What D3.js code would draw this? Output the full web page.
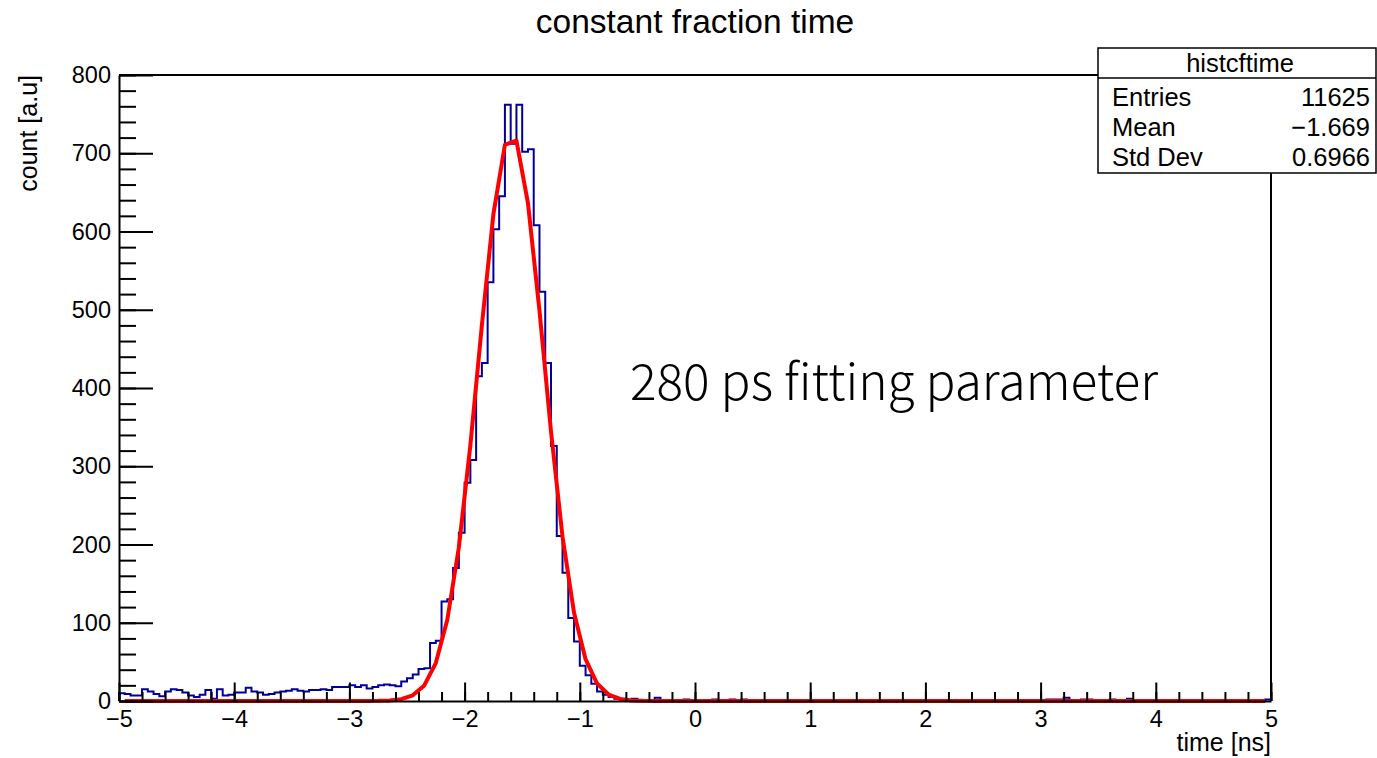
<!DOCTYPE html>
<html>
<head>
<meta charset="utf-8">
<script src="https://cdn.jsdelivr.net/npm/d3@7"></script>
<style>
  body { margin: 0; background: #fff; }
  svg { display: block; }
  text { font-family: "Liberation Sans", Arial, Helvetica, sans-serif; fill: #000; }
</style>
</head>
<body>
<svg id="chart" width="1377" height="758"></svg>
<script>
// histogram: 200 bins of 0.05 ns between -5 and 5
const binRange = [-5, 5];
const counts = [
  10, 9, 7, 7, 15, 12, 9, 6, 12, 15, 14, 11, 7, 5, 8, 14, 3, 15, 7, 8,
  11, 11, 17, 12, 11, 8, 9, 11, 12, 13, 15, 13, 12, 14, 14, 15, 14, 18, 18, 18,
  20, 18, 20, 16, 18, 20, 21, 20, 19, 25, 29, 34, 41, 42, 74, 77, 127, 130, 170, 215,
  279, 308, 415, 432, 535, 603, 645, 762, 712, 762, 702, 705, 608, 523, 432, 326, 211, 164, 106, 76,
  45, 33, 22, 12, 8, 5, 3, 2, 0, 3, 1, 0, 1, 4, 0, 1, 0, 1, 2, 0,
  1, 0, 1, 2, 1, 0, 2, 1, 2, 0, 0, 0, 0, 0, 0, 0, 0, 0, 0, 0,
  0, 0, 0, 1, 0, 0, 0, 0, 0, 0, 0, 0, 0, 0, 0, 0, 0, 0, 0, 1,
  1, 1, 0, 0, 0, 0, 0, 1, 1, 0, 1, 0, 0, 0, 0, 1, 0, 0, 0, 1,
  0, 2, 2, 2, 4, 0, 1, 2, 2, 0, 0, 0, 2, 0, 1, 3, 0, 0, 0, 0,
  0, 0, 0, 0, 1, 0, 0, 0, 0, 0, 0, 0, 1, 0, 0, 1, 0, 0, 0, 2
];

// gaus fit: constant, mean, sigma (drawn at 100 points like TF1)
const fitParams = [725, -1.594, 0.282];
const fitPoints = 100;

const xTicks = [-5, -4, -3, -2, -1, 0, 1, 2, 3, 4, 5];
const yTicks = [0, 100, 200, 300, 400, 500, 600, 700, 800];

const statsName = "histcftime";
const statsLabels = ["Entries", "Mean", "Std Dev"];
const statsValues = ["11625", "\u22121.669", "0.6966"];

const svg = d3.select("#chart");
const frame = {left: 119, right: 1271, top: 75, bottom: 701};

const x = d3.scaleLinear().domain(binRange).range([frame.left, frame.right]);
const y = d3.scaleLinear().domain([0, 800]).range([frame.bottom, frame.top]);

const binW = (binRange[1] - binRange[0]) / counts.length;

// title
svg.append("text")
    .attr("x", 695).attr("y", 33)
    .attr("text-anchor", "middle")
    .style("font-size", "33.5px")
    .text("constant fraction time");

// frame top / right
svg.append("path")
    .attr("d", `M${frame.left},${frame.top}H${frame.right}V${frame.bottom}`)
    .attr("fill", "none").attr("stroke", "#000").attr("stroke-width", 2);

// histogram outline as a step path
const steps = [[binRange[0], 0]];
counts.forEach((c, i) => {
    const x0 = binRange[0] + i * binW;
    steps.push([x0, c], [x0 + binW, c]);
});
steps.push([binRange[1], 0]);

svg.append("path")
    .attr("d", d3.line().x(d => x(d[0])).y(d => y(d[1]))(steps))
    .attr("fill", "none")
    .attr("stroke", "#000099")
    .attr("stroke-width", 2);

// fit curve
const fitDx = (binRange[1] - binRange[0]) / fitPoints;
const fitData = d3.range(fitPoints).map(i => {
    const t = binRange[0] + (i + 0.5) * fitDx;
    const z = (t - fitParams[1]) / fitParams[2];
    return [t, fitParams[0] * Math.exp(-0.5 * z * z)];
});
svg.append("path")
    .attr("d", d3.line().x(d => x(d[0])).y(d => y(d[1]))(fitData))
    .attr("fill", "none")
    .attr("stroke", "#ff0000")
    .attr("stroke-width", 4)
    .attr("stroke-linejoin", "round");

// x axis, ticks pointing inwards
const xMinor = d3.range(-5, 5.0001, 0.2).map(v => +v.toFixed(2));
svg.append("g")
    .attr("transform", `translate(0,${frame.bottom})`)
    .call(d3.axisBottom(x).tickValues(xMinor).tickFormat("").tickSizeInner(-9).tickSizeOuter(0))
    .call(g => g.select(".domain").remove());
const gx = svg.append("g")
    .attr("transform", `translate(0,${frame.bottom})`)
    .call(d3.axisBottom(x).tickValues(xTicks).tickSizeInner(-18.5).tickSizeOuter(0).tickPadding(9));
gx.selectAll("text").style("font-size", "23.5px").attr("font-family", null);

// y axis
const yMinor = d3.range(0, 801, 20);
svg.append("g")
    .attr("transform", `translate(${frame.left},0)`)
    .call(d3.axisLeft(y).tickValues(yMinor).tickFormat("").tickSizeInner(-17).tickSizeOuter(0))
    .call(g => g.select(".domain").remove());
const gy = svg.append("g")
    .attr("transform", `translate(${frame.left},0)`)
    .call(d3.axisLeft(y).tickValues(yTicks).tickSizeInner(-34).tickSizeOuter(0).tickPadding(8));
gy.selectAll("text").style("font-size", "23.5px").attr("font-family", null);

svg.selectAll(".tick line").attr("stroke", "#000").attr("stroke-width", 2);
svg.selectAll(".domain").attr("stroke", "#000").attr("stroke-width", 2);

// axis titles
svg.append("text")
    .attr("x", 1271).attr("y", 751)
    .attr("text-anchor", "end")
    .style("font-size", "25px")
    .text("time [ns]");

svg.append("text")
    .attr("transform", "translate(37,75) rotate(-90)")
    .attr("text-anchor", "end")
    .style("font-size", "25px")
    .text("count [a.u]");

// annotation
svg.append("text")
    .attr("x", 630).attr("y", 400)
    .attr("textLength", 528)
    .attr("lengthAdjust", "spacingAndGlyphs")
    .style("font-family", "'Noto Sans CJK JP', 'Noto Sans', sans-serif")
    .style("font-weight", 300)
    .style("font-size", "50px")
    .text("280 ps fitting parameter");

// stats box
const box = {x: 1098, y: 48, w: 278, h: 125, head: 30};
const stats = svg.append("g");
stats.append("rect")
    .attr("x", box.x).attr("y", box.y)
    .attr("width", box.w).attr("height", box.h)
    .attr("fill", "#fff").attr("stroke", "#000").attr("stroke-width", 1.5);
stats.append("line")
    .attr("x1", box.x).attr("x2", box.x + box.w)
    .attr("y1", box.y + box.head).attr("y2", box.y + box.head)
    .attr("stroke", "#000").attr("stroke-width", 1.5);
stats.append("text")
    .attr("x", box.x + box.w / 2 + 3).attr("y", box.y + 24)
    .attr("text-anchor", "middle")
    .style("font-size", "25.5px")
    .text(statsName);
statsLabels.forEach((lab, i) => {
    const by = box.y + box.head + 28 + i * 30;
    stats.append("text")
        .attr("x", box.x + 14).attr("y", by)
        .style("font-size", "25.5px")
        .text(lab);
    stats.append("text")
        .attr("x", box.x + box.w - 6).attr("y", by)
        .attr("text-anchor", "end")
        .style("font-size", "25.5px")
        .text(statsValues[i]);
});
</script>
</body>
</html>
